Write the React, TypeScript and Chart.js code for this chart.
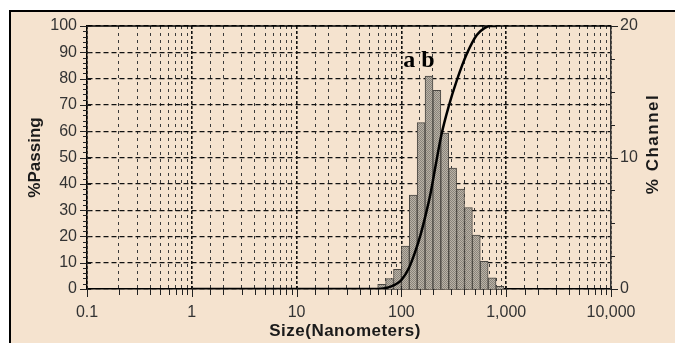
import React, { useEffect, useRef } from "react";
import { Chart, registerables } from "chart.js";

Chart.register(...registerables);

// ---- data ----
const channelSizes = [64.8, 77.1, 91.7, 109.1, 129.7, 154.2, 183.4, 218.1, 259.4, 308.4, 366.8, 436.2, 518.7, 616.8, 733.6, 872.4];
const channelPercent = [0.36, 0.8, 1.5, 3.27, 7.15, 12.65, 16.2, 15.1, 11.85, 9.2, 7.6, 6.2, 4.1, 2.1, 0.85, 0.2];
const curveSizes = [1, 60, 70, 80, 90, 100, 118, 135, 152, 170, 189, 210, 242, 282, 339, 423, 524, 620, 704, 800];
const curvePassing = [0, 0, 0.3, 1, 2, 3.4, 8, 14, 20.5, 28, 36, 46, 59, 69.3, 79.5, 89.6, 96.6, 99.2, 100, 100];
const xTickLabels = ["0.1", "1", "10", "100", "1,000", "10,000"];
const leftTicks = [0, 10, 20, 30, 40, 50, 60, 70, 80, 90, 100];
const rightTicks = [0, 10, 20];

const titleX = "Size(Nanometers)";
const titleLeft = "%Passing";
const titleRight = "% Channel";
const peakLabel = "a b";

const BG = "#F5E3CF";
const SANS = "'Liberation Sans', Arial, sans-serif";

function isDecade(v: number) {
  const e = Math.log10(v);
  return Math.abs(e - Math.round(e)) < 1e-6;
}

const decor = {
  id: "decor",
  beforeDraw(chart: any) {
    const { ctx, width, height } = chart;
    ctx.save();
    ctx.fillStyle = "#fff";
    ctx.fillRect(0, 0, width, height);
    ctx.fillStyle = BG;
    ctx.fillRect(9, 10, width - 9, height - 10);
    ctx.fillStyle = "#000";
    ctx.fillRect(9, 10, 2, height - 10);
    ctx.fillRect(9, 10, width - 9, 2);
    ctx.restore();
  },
  afterDraw(chart: any) {
    const { ctx, chartArea } = chart;
    const { left, right, top, bottom } = chartArea;
    const xs = chart.scales.x;
    const ys = chart.scales.y;
    const y1 = chart.scales.y1;
    ctx.save();
    // top frame line
    ctx.strokeStyle = "#000";
    ctx.lineWidth = 1.5;
    ctx.beginPath();
    ctx.moveTo(left, top);
    ctx.lineTo(right, top);
    ctx.stroke();

    ctx.strokeStyle = "#222";
    ctx.lineWidth = 1;
    // x tick marks
    for (const t of xs.ticks) {
      const px = Math.round(xs.getPixelForValue(t.value)) + 0.5;
      const major = isDecade(t.value);
      ctx.beginPath();
      ctx.moveTo(px, major ? bottom - 3 : bottom);
      ctx.lineTo(px, major ? bottom + 8 : bottom + 6);
      ctx.stroke();
    }
    // left tick marks
    for (let v = 0; v <= 100; v += 2) {
      const py = Math.round(ys.getPixelForValue(v)) + 0.5;
      const major = v % 10 === 0;
      ctx.beginPath();
      ctx.moveTo(major ? left - 7 : left - 4, py);
      ctx.lineTo(major ? left + 4 : left, py);
      ctx.stroke();
    }
    // right tick marks
    for (let v = 0; v <= 20; v += 2.5) {
      const py = Math.round(y1.getPixelForValue(v)) + 0.5;
      const major = v % 10 === 0;
      ctx.beginPath();
      ctx.moveTo(right, py);
      ctx.lineTo(major ? right + 7 : right + 4, py);
      ctx.stroke();
    }

    // axis titles
    ctx.fillStyle = "#1a1a1a";
    ctx.font = `bold 17px ${SANS}`;
    ctx.textAlign = "center";
    ctx.textBaseline = "middle";
    try { (ctx as any).letterSpacing = "0.5px"; } catch (e) {}
    ctx.fillText(titleX, 345, 331);
    try { (ctx as any).letterSpacing = "0px"; } catch (e) {}

    ctx.save();
    ctx.translate(35, (top + bottom) / 2);
    ctx.rotate(-Math.PI / 2);
    ctx.fillText(titleLeft, 0, 0);
    ctx.restore();

    ctx.save();
    ctx.translate(653, 144);
    ctx.rotate(-Math.PI / 2);
    try { (ctx as any).letterSpacing = "1.5px"; } catch (e) {}
    ctx.fillText(titleRight, 0, 0);
    try { (ctx as any).letterSpacing = "0px"; } catch (e) {}
    ctx.restore();

    // peak annotation
    ctx.fillStyle = "#000";
    ctx.font = "bold 24px 'Liberation Serif', 'Times New Roman', serif";
    ctx.textBaseline = "alphabetic";
    ctx.fillText(peakLabel, 419, 67);
    ctx.restore();
  },
};

export default function App() {
  const ref = useRef<HTMLCanvasElement>(null);

  useEffect(() => {
    const canvas = ref.current!;
    const pc = document.createElement("canvas");
    pc.width = 2;
    pc.height = 2;
    const p = pc.getContext("2d")!;
    p.fillStyle = "#b9b2a6";
    p.fillRect(0, 0, 2, 2);
    p.fillStyle = "#8a847b";
    p.fillRect(0, 0, 1, 1);
    p.fillRect(1, 1, 1, 1);
    const pattern = canvas.getContext("2d")!.createPattern(pc, "repeat");

    const chart = new Chart(canvas, {
      type: "bar",
      data: {
        datasets: [
          {
            type: "line",
            data: curveSizes.map((x, i) => ({ x, y: curvePassing[i] })),
            yAxisID: "y",
            borderColor: "#000",
            borderWidth: 2.5,
            pointRadius: 0,
            cubicInterpolationMode: "monotone",
            fill: false,
            order: 0,
          } as any,
          {
            type: "bar",
            data: channelSizes.map((x, i) => ({ x, y: channelPercent[i] })),
            yAxisID: "y1",
            backgroundColor: pattern as any,
            borderColor: "#4a4742",
            borderWidth: 1,
            barThickness: "flex",
            barPercentage: 1,
            categoryPercentage: 1,
            order: 1,
          } as any,
        ],
      },
      options: {
        responsive: false,
        animation: false,
        devicePixelRatio: 1,
        layout: { padding: { top: 26, left: 0, right: 0, bottom: 0 } },
        plugins: { legend: { display: false }, tooltip: { enabled: false } },
        scales: {
          x: {
            type: "logarithmic",
            min: 0.1,
            max: 10000,
            offset: false,
            afterFit: (s: any) => { s.height = 54; },
            grid: {
              offset: false,
              drawTicks: false,
              color: (c: any) => (c.tick && isDecade(c.tick.value) ? "#111" : "#3a3a3a"),
              lineWidth: (c: any) => (c.tick && isDecade(c.tick.value) ? 1.6 : 1),
            },
            border: {
              display: true,
              color: "#000",
              width: 1.5,
              dash: (c: any) => (c.tick && isDecade(c.tick.value) ? [3, 2] : [3, 4]),
            },
            ticks: {
              autoSkip: false,
              maxRotation: 0,
              padding: 14,
              color: "#333",
              font: { family: SANS, size: 16 },
              callback: (v: any) => {
                const n = Number(v);
                if (!isDecade(n)) return "";
                return xTickLabels[Math.round(Math.log10(n)) + 1] ?? "";
              },
            },
          } as any,
          y: {
            position: "left",
            min: 0,
            max: 100,
            afterFit: (s: any) => { s.width = 87; },
            grid: { drawTicks: false, color: "#111", lineWidth: 1.2 },
            border: { display: true, color: "#000", width: 1.5, dash: [5, 3] },
            ticks: {
              stepSize: 10,
              padding: 10,
              color: "#333",
              font: { family: SANS, size: 16 },
              callback: (v: any) => (leftTicks.includes(Number(v)) ? String(v) : ""),
            },
          } as any,
          y1: {
            position: "right",
            min: 0,
            max: 20,
            afterFit: (s: any) => { s.width = 64; },
            grid: { display: false, drawTicks: false },
            border: { display: true, color: "#333", width: 1.5 },
            ticks: {
              stepSize: 10,
              padding: 9,
              color: "#333",
              font: { family: SANS, size: 16 },
              callback: (v: any) => (rightTicks.includes(Number(v)) ? String(v) : ""),
            },
          } as any,
        },
      },
      plugins: [decor],
    });
    return () => chart.destroy();
  }, []);

  return (
    <div style={{ position: "absolute", left: 0, top: 0, width: 675, height: 343 }}>
      <canvas ref={ref} width={675} height={343} style={{ display: "block" }} />
    </div>
  );
}
